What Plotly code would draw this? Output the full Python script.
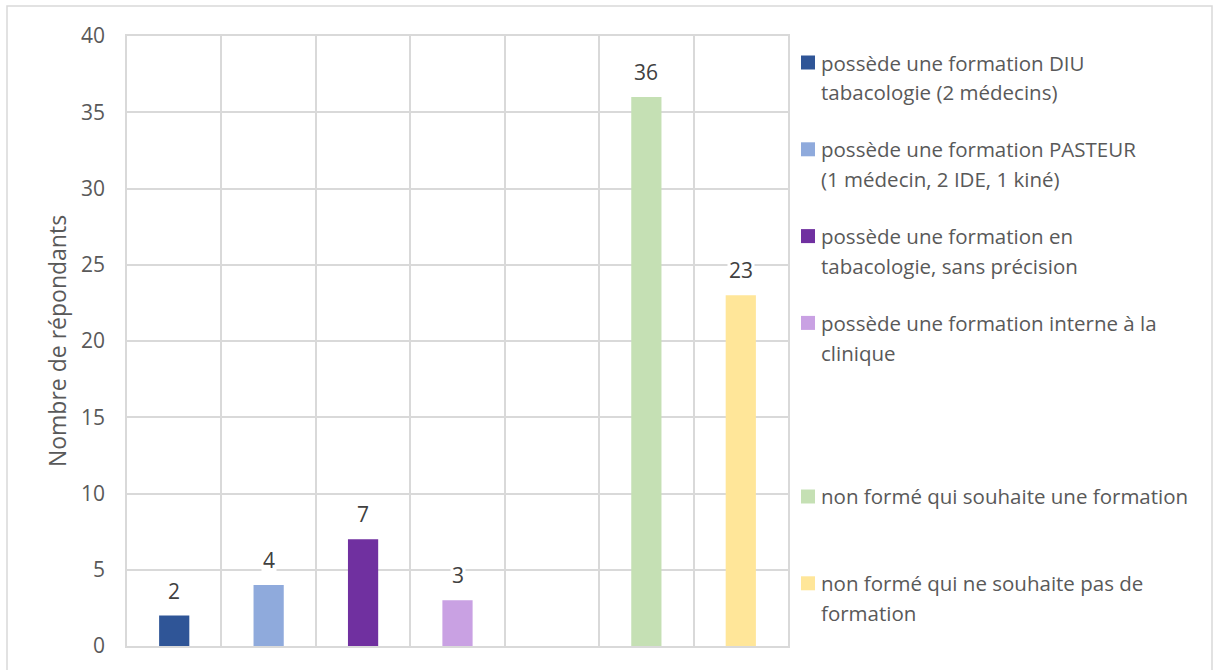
import plotly.graph_objects as go

# Survey answers: one series per training status (the blank one keeps an empty slot)
series_names = [
    "possède une formation DIU<br>tabacologie (2 médecins)",
    "possède une formation PASTEUR<br>(1 médecin, 2 IDE, 1 kiné)",
    "possède une formation en<br>tabacologie, sans précision",
    "possède une formation interne à la<br>clinique",
    "",
    "non formé qui souhaite une formation",
    "non formé qui ne souhaite pas de<br>formation",
]
respondents = [2, 4, 7, 3, None, 36, 23]
bar_colors = ["#2F5597", "#8FAADC", "#7030A0", "#C9A1E3", "#FFFFFF", "#C5E0B4", "#FFE699"]

y_ticks = [0, 5, 10, 15, 20, 25, 30, 35, 40]
y_title = "Nombre de répondants"

# Page geometry (pixels)
W, H = 1213, 670
ML, MR, MT, MB = 127, 425, 36, 24
PW, PH = W - ML - MR, H - MT - MB

TEXT = "#595959"
GRID = "#D9D9D9"
FONT = "Open Sans"


def px_x(x):
    return (x - ML) / PW


def px_y(y):
    return (H - MB - y) / PH


fig = go.Figure()
annotations = []
shapes = []

for i, (name, val, col) in enumerate(zip(series_names, respondents, bar_colors)):
    slot = i + 1
    if val is not None:
        fig.add_trace(go.Bar(
            x=[slot], y=[val], width=0.32, name=name.replace("<br>", " "),
            marker=dict(color=col, line=dict(width=0)), showlegend=False,
            hoverinfo="y+name",
        ))
        annotations.append(dict(
            x=slot, y=val, xref="x", yref="y", text=str(val), showarrow=False,
            yanchor="bottom", yshift=9, bgcolor="white", borderpad=1,
            font=dict(family=FONT, size=21, color="#404040"),
        ))

# Legend drawn beside the plot: colour square + wrapped label lines
LEG_TOP, LEG_PITCH, LINE_GAP = 62.5, 86.8, 30
SQ_X0, SQ_X1, TXT_X = 801, 815, 819
for i, (name, col) in enumerate(zip(series_names, bar_colors)):
    if not name:
        continue
    yc = LEG_TOP + i * LEG_PITCH
    shapes.append(dict(
        type="rect", xref="paper", yref="paper",
        x0=px_x(SQ_X0), x1=px_x(SQ_X1), y0=px_y(yc + 7), y1=px_y(yc - 7),
        fillcolor=col, line=dict(width=0),
    ))
    for j, line in enumerate(name.split("<br>")):
        annotations.append(dict(
            x=px_x(TXT_X), y=px_y(yc + j * LINE_GAP), xref="paper", yref="paper",
            text=line, showarrow=False, xanchor="left", yanchor="middle",
            font=dict(family=FONT, size=20.5, color=TEXT),
        ))

# Outer chart frame
shapes.append(dict(
    type="rect", xref="paper", yref="paper", layer="below",
    x0=px_x(7), x1=px_x(1212), y0=px_y(672), y1=px_y(6),
    line=dict(color=GRID, width=1.5), fillcolor="rgba(0,0,0,0)",
))

n_slots = len(series_names)
fig.update_layout(
    width=W, height=H,
    margin=dict(l=ML, r=MR, t=MT, b=MB, autoexpand=False),
    paper_bgcolor="white", plot_bgcolor="white",
    barmode="overlay", showlegend=False,
    font=dict(family=FONT, color=TEXT),
    annotations=annotations, shapes=shapes,
    xaxis=dict(
        range=[0.5, n_slots + 0.5],
        tickvals=[k + 0.5 for k in range(n_slots + 1)],
        showticklabels=False, ticks="",
        showgrid=True, gridcolor=GRID, gridwidth=1.5,
        showline=True, linecolor=GRID, linewidth=1.5, mirror=True,
        zeroline=False, fixedrange=True,
    ),
    yaxis=dict(
        range=[0, 40], tickvals=y_ticks,
        tickfont=dict(family=FONT, size=21, color=TEXT),
        ticks="", ticklabelstandoff=16,
        showgrid=True, gridcolor=GRID, gridwidth=1.5,
        showline=True, linecolor=GRID, linewidth=1.5, mirror=True,
        zeroline=False, fixedrange=True,
        title=dict(text=y_title, font=dict(family=FONT, size=23, color=TEXT), standoff=8),
        automargin=False,
    ),
)

fig.write_html("out.html", config={"displayModeBar": False})
